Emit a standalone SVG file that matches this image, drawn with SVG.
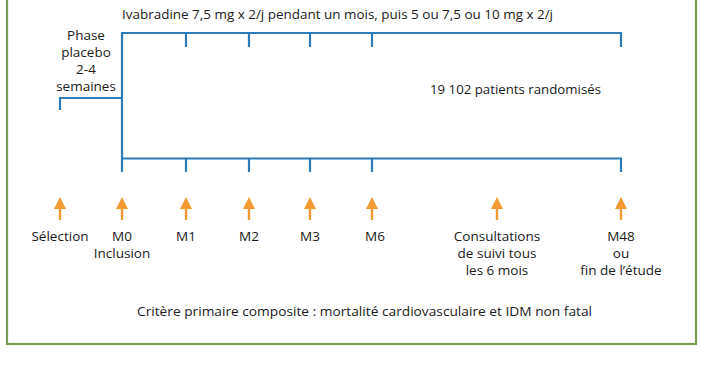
<svg xmlns="http://www.w3.org/2000/svg" width="702" height="370" viewBox="0 0 702 370">
<style>
  .t { font-family: "Open Sans", "Noto Sans", sans-serif; font-size: 13.5px; fill: #1a1a1a; }
  .c { text-anchor: middle; }
  .blue { fill: none; stroke: #2f7bb8; stroke-width: 2.2; stroke-linecap: butt; stroke-linejoin: miter; }
  .arr { stroke: #f39a32; stroke-width: 2.4; fill: none; }
  .head { fill: #f39a32; }
</style>
<defs>
  <g id="arrow">
    <line class="arr" x1="0" y1="220" x2="0" y2="206"/>
    <polygon class="head" points="0,197 -6,209 6,209"/>
  </g>
</defs>
<rect width="702" height="370" fill="#ffffff"/>
<rect id="frame" x="7" y="-10" width="689" height="354" fill="none" stroke="#7b9a52" stroke-width="2.2"/>

<g id="connectors">
  <path class="blue" d="M122,172 V33 H621 V47"/>
  <path class="blue" d="M186,33 V47 M249,33 V47 M310,33 V47 M372,33 V47"/>
  <path class="blue" d="M60,110 V98 H122"/>
  <path class="blue" d="M122,158.5 H621 V172"/>
  <path class="blue" d="M186,158.5 V172 M249,158.5 V172 M310,158.5 V172 M372,158.5 V172"/>
  <use href="#arrow" x="60"/>
  <use href="#arrow" x="122"/>
  <use href="#arrow" x="186"/>
  <use href="#arrow" x="249"/>
  <use href="#arrow" x="310"/>
  <use href="#arrow" x="372"/>
  <use href="#arrow" x="497"/>
  <use href="#arrow" x="621"/>
</g>

<g id="title">
  <text class="t" x="122" y="18.5" font-size="14" textLength="431" lengthAdjust="spacingAndGlyphs">Ivabradine 7,5 mg x 2/j pendant un mois, puis 5 ou 7,5 ou 10 mg x 2/j</text>
</g>
<g id="placebo">
  <text class="t c" x="86" y="39.5">Phase</text>
  <text class="t c" x="86" y="56.5">placebo</text>
  <text class="t c" x="86" y="73.5">2-4</text>
  <text class="t c" x="86" y="90.5">semaines</text>
</g>
<g id="randomises">
  <text class="t" x="430" y="93.5" font-size="14" textLength="171" lengthAdjust="spacingAndGlyphs">19 102 patients randomisés</text>
</g>
<g id="selection"><text class="t c" x="60" y="241">Sélection</text></g>
<g id="m0">
  <text class="t c" x="122" y="241">M0</text>
  <text class="t c" x="122" y="258">Inclusion</text>
</g>
<g id="m1"><text class="t c" x="186" y="241">M1</text></g>
<g id="m2"><text class="t c" x="249" y="241">M2</text></g>
<g id="m3"><text class="t c" x="310" y="241">M3</text></g>
<g id="m6"><text class="t c" x="375" y="241">M6</text></g>
<g id="consultations">
  <text class="t c" x="497" y="241">Consultations</text>
  <text class="t c" x="497" y="258">de suivi tous</text>
  <text class="t c" x="497" y="275">les 6 mois</text>
</g>
<g id="m48">
  <text class="t c" x="621" y="241">M48</text>
  <text class="t c" x="621" y="258">ou</text>
  <text class="t c" x="621" y="275">fin de l’étude</text>
</g>
<g id="critere">
  <text class="t" x="137" y="316" font-size="14" textLength="455" lengthAdjust="spacingAndGlyphs">Critère primaire composite : mortalité cardiovasculaire et IDM non fatal</text>
</g>
</svg>
